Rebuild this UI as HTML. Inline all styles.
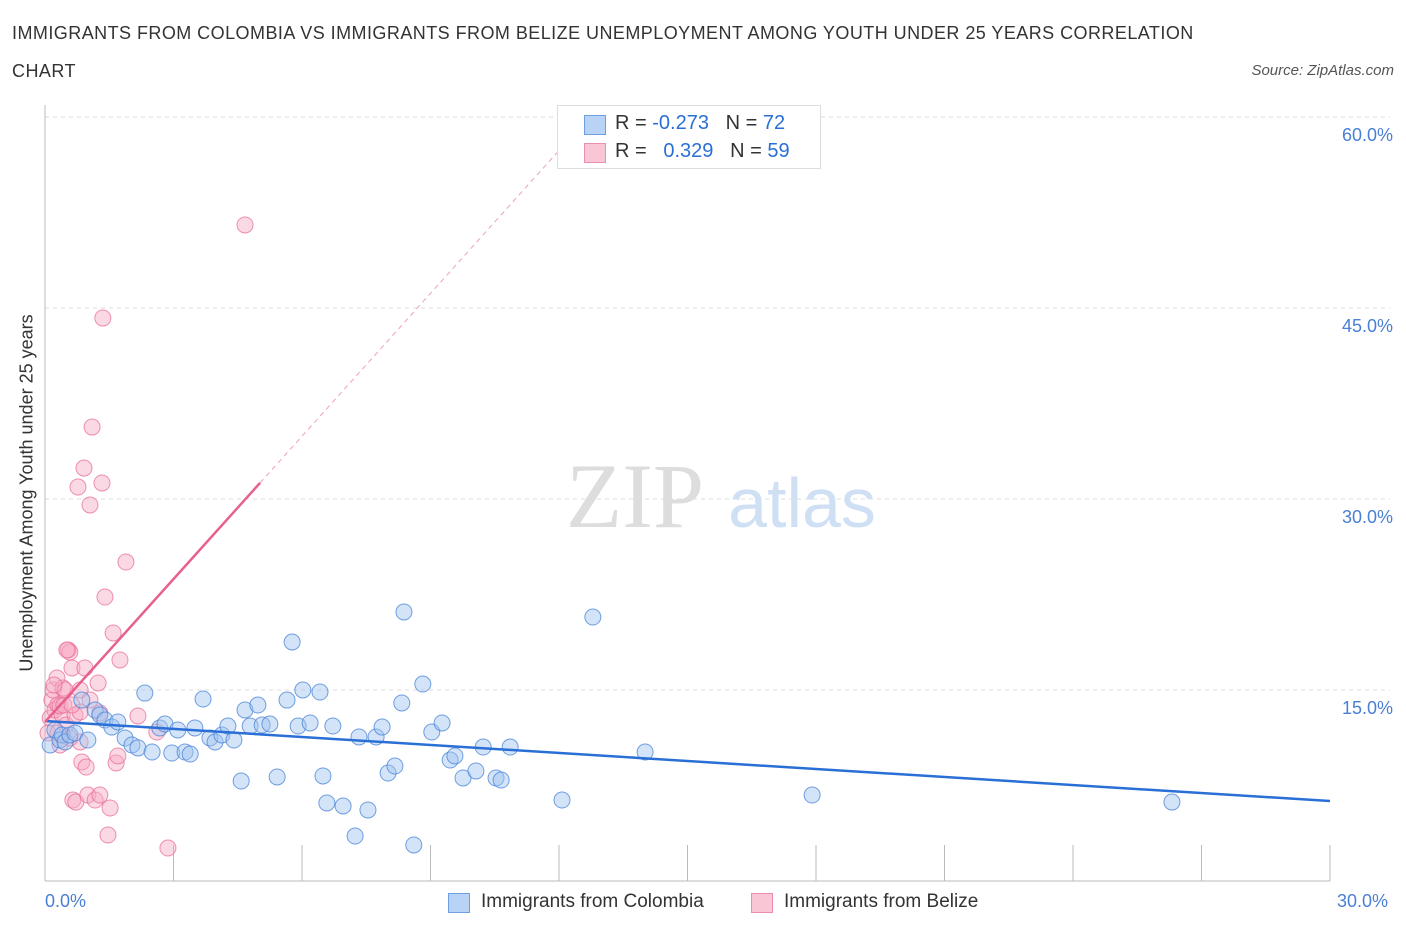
<!DOCTYPE html>
<html><head><meta charset="utf-8"><style>
body{margin:0;background:#fff;font-family:"Liberation Sans",sans-serif;}
#wrap{position:relative;width:1406px;height:930px;overflow:hidden}
.t{position:absolute;white-space:nowrap}
</style></head><body>
<div id="wrap">
<div class="t" style="left:12px;top:14px;font-size:18px;color:#333;line-height:38px;letter-spacing:0.45px">IMMIGRANTS FROM COLOMBIA VS IMMIGRANTS FROM BELIZE UNEMPLOYMENT AMONG YOUTH UNDER 25 YEARS CORRELATION<br>CHART</div>
<div class="t" style="right:12px;top:62px;font-size:15px;color:#555;font-style:italic">Source: ZipAtlas.com</div>
<svg id="svg" width="1406" height="930" style="position:absolute;left:0;top:0"></svg>
</div>
<script>
const ticksY=[15,30,45,60];
const ticksYLabels=["15.0%","30.0%","45.0%","60.0%"];
const blueX=[0.12,0.23,0.35,0.40,0.47,0.58,0.70,0.86,1.00,1.17,1.28,1.40,1.56,1.70,1.87,2.03,2.17,2.33,2.50,2.68,2.80,2.96,3.10,3.27,3.39,3.50,3.69,3.85,3.97,4.13,4.27,4.41,4.58,4.67,4.79,4.97,5.07,5.25,5.42,5.65,5.77,5.91,6.02,6.19,6.42,6.49,6.58,6.72,6.96,7.24,7.33,7.54,7.73,7.87,8.01,8.17,8.33,8.38,8.61,8.82,9.03,9.27,9.46,9.57,9.76,10.06,10.23,10.53,10.65,10.86,12.07,12.79,14.01,17.91,26.31];
const blueY=[10.68,11.86,11.07,11.47,10.92,11.47,11.62,14.21,11.07,13.43,13.04,12.64,12.09,12.49,11.23,10.68,10.45,14.76,10.13,12.02,12.33,10.05,11.86,10.13,9.97,12.02,14.29,11.23,10.92,11.47,12.17,11.07,7.85,13.43,12.17,13.82,12.25,12.33,8.17,14.21,18.77,12.17,15.00,12.41,14.84,8.25,6.13,12.17,5.89,3.53,11.31,5.58,11.31,12.09,8.48,9.03,13.98,21.13,2.83,15.47,11.70,12.41,9.50,9.82,8.09,8.64,10.52,8.09,7.93,10.52,6.36,20.73,10.13,6.75,6.20];
const pinkX=[0.07,0.12,0.16,0.19,0.23,0.28,0.30,0.35,0.40,0.42,0.47,0.49,0.54,0.58,0.63,0.65,0.70,0.72,0.77,0.82,0.82,0.86,0.91,0.93,0.96,1.00,1.05,1.10,1.17,1.24,1.28,1.33,1.35,1.40,1.52,1.47,1.59,1.66,1.70,1.75,1.89,2.17,2.61,2.87,4.67,0.35,0.44,0.58,0.51,0.30,0.21,1.05,1.28,0.82,0.63];
const pinkY=[11.62,12.80,14.21,15.00,13.43,15.94,13.82,10.68,13.04,15.16,15.00,12.25,18.14,17.98,16.73,6.36,13.04,6.20,30.94,10.92,15.00,9.35,32.43,16.73,8.95,6.75,29.53,35.65,6.36,15.55,6.75,31.26,44.21,22.30,5.73,3.61,19.48,9.27,9.82,17.36,25.05,12.96,11.70,2.59,51.52,13.74,13.82,11.23,18.14,11.62,15.39,14.21,13.19,13.27,13.82];
const blueTrend=[12.57,-0.2097];
const pinkTrend=[12.49,3.74];
const X0=45,X1=1330,Y0=881;
const sx=v=>X0+(v/30)*(X1-X0);
const sy=v=>Y0-v*(191/15);
const svg=document.getElementById('svg');
const NS='http://www.w3.org/2000/svg';
function mk(tag,attrs){const e=document.createElementNS(NS,tag);for(const k in attrs)e.setAttribute(k,attrs[k]);svg.appendChild(e);return e;}
ticksY.forEach((v,i)=>{
 const g=mk('line',{x1:X0,x2:1390,y1:sy(v),y2:sy(v),stroke:'#ddd','stroke-dasharray':'4,4'});
 
 
 const t=mk('text',{x:1393,y:sy(v)+24,'text-anchor':'end','font-size':18,fill:'#4a7fd6','font-family':'Liberation Sans'});
 t.textContent=ticksYLabels[i];
 
 
});
const ax=mk('line',{x1:X0,x2:X0,y1:105,y2:Y0,stroke:'#bbb'});


const bx=mk('line',{x1:X0,x2:X1,y1:Y0,y2:Y0,stroke:'#bbb'});


for(let i=1;i<=10;i++){
 const l=mk('line',{x1:sx(i*3),x2:sx(i*3),y1:845,y2:Y0,stroke:'#bbb'});
 
 
}
const w1=mk('text',{x:635,y:527,'text-anchor':'middle','font-size':92,fill:'#ddd','font-family':'Liberation Serif'});
w1.textContent='ZIP';


const w2=mk('text',{x:802,y:527,'text-anchor':'middle','font-size':70,fill:'#cfe0f5','font-family':'Liberation Sans'});
w2.textContent='atlas';


pinkX.forEach((x,i)=>{
 const c=mk('circle',{cx:sx(x),cy:sy(pinkY[i]),r:8,fill:'rgba(246,170,195,0.45)',stroke:'rgba(232,110,150,0.75)','stroke-width':1});
 
 
});
blueX.forEach((x,i)=>{
 const c=mk('circle',{cx:sx(x),cy:sy(blueY[i]),r:8,fill:'rgba(160,195,240,0.45)',stroke:'rgba(70,130,215,0.75)','stroke-width':1});
 
 
});
const bt=mk('line',{x1:sx(0),y1:sy(blueTrend[0]),x2:sx(30),y2:sy(blueTrend[0]+30*blueTrend[1]),stroke:'#2a6fd6','stroke-width':2.5});


const pEnd=5.02,pDash=(60-pinkTrend[0])/pinkTrend[1];
const pt=mk('line',{x1:sx(0),y1:sy(pinkTrend[0]),x2:sx(pEnd),y2:sy(pinkTrend[0]+pEnd*pinkTrend[1]),stroke:'#e8608e','stroke-width':2.5});


const pd=mk('line',{x1:sx(pEnd),y1:sy(pinkTrend[0]+pEnd*pinkTrend[1]),x2:sx(pDash),y2:sy(60),stroke:'#f0a0b8','stroke-width':1,'stroke-dasharray':'5,4'});


</script>
<div class="t" style="left:45px;top:891px;font-size:18px;color:#4a7fd6">0.0%</div>
<div class="t" style="left:1337px;top:891px;font-size:18px;color:#4a7fd6">30.0%</div>
<div class="t" style="left:27px;top:493px;font-size:18px;color:#333;transform:translate(-50%,-50%) rotate(-90deg)">Unemployment Among Youth under 25 years</div>
<div style="position:absolute;left:557px;top:105px;width:262px;height:62px;border:1px solid #ddd;background:#fff;font-size:20px;color:#333">
 <div style="position:absolute;left:26px;top:9px;width:20px;height:18px;background:#b8d3f5;border:1px solid #6f9fe0"></div>
 <div class="t" style="left:57px;top:6px">R = <span style="color:#2a6fd6">-0.273</span>&nbsp;&nbsp;&nbsp;N = <span style="color:#2a6fd6">72</span></div>
 <div style="position:absolute;left:26px;top:37px;width:20px;height:18px;background:#f8c6d5;border:1px solid #eb8fac"></div>
 <div class="t" style="left:57px;top:34px">R = &nbsp;&nbsp;<span style="color:#2a6fd6">0.329</span>&nbsp;&nbsp;&nbsp;N = <span style="color:#2a6fd6">59</span></div>
</div>
<div style="position:absolute;left:448px;top:891px;font-size:19px;color:#333">
 <div style="position:absolute;left:0;top:2px;width:20px;height:18px;background:#b8d3f5;border:1px solid #6f9fe0"></div>
 <div class="t" style="left:33px;top:0">Immigrants from Colombia</div></div>
<div style="position:absolute;left:751px;top:891px;font-size:19px;color:#333">
 <div style="position:absolute;left:0;top:2px;width:20px;height:18px;background:#f8c6d5;border:1px solid #eb8fac"></div>
 <div class="t" style="left:33px;top:0">Immigrants from Belize</div></div>
</body></html>
